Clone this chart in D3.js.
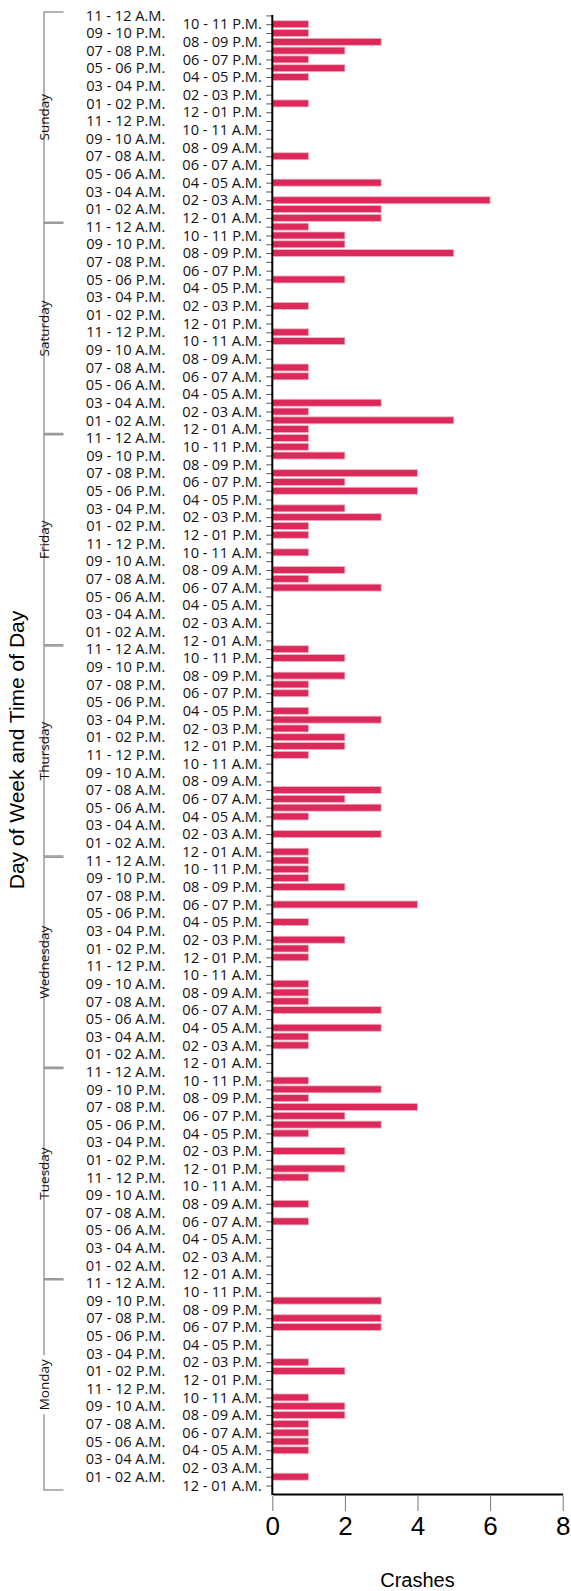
<!DOCTYPE html>
<html>
<head>
<meta charset="utf-8">
<script src="https://cdn.jsdelivr.net/npm/d3@7/dist/d3.min.js"></script>
<style>
  html, body { margin: 0; padding: 0; background: #fff; }
  svg { display: block; }
</style>
</head>
<body>
<svg id="chart" width="571" height="1591"></svg>
<script>
// ---- Data ----
const days = ["Monday", "Tuesday", "Wednesday", "Thursday", "Friday", "Saturday", "Sunday"];
const hourLabels = [
  "12 - 01 A.M.", "01 - 02 A.M.", "02 - 03 A.M.", "03 - 04 A.M.", "04 - 05 A.M.", "05 - 06 A.M.",
  "06 - 07 A.M.", "07 - 08 A.M.", "08 - 09 A.M.", "09 - 10 A.M.", "10 - 11 A.M.", "11 - 12 P.M.",
  "12 - 01 P.M.", "01 - 02 P.M.", "02 - 03 P.M.", "03 - 04 P.M.", "04 - 05 P.M.", "05 - 06 P.M.",
  "06 - 07 P.M.", "07 - 08 P.M.", "08 - 09 P.M.", "09 - 10 P.M.", "10 - 11 P.M.", "11 - 12 A.M."
];
// crashes per hour (index 0 = 12 - 01 A.M.)
const monday    = [0,1,0,0,1,1,1,1,2,2,1,0,0,2,1,0,0,0,3,3,0,3,0,0];
const tuesday   = [0,0,0,0,0,0,1,0,1,0,0,1,2,0,2,0,1,3,2,4,1,3,1,0];
const wednesday = [0,0,1,1,3,0,3,1,1,1,0,0,1,1,2,0,1,0,4,0,2,1,1,1];
const thursday  = [1,0,3,0,1,3,2,3,0,0,0,1,2,2,1,3,1,0,1,1,2,0,2,1];
const friday    = [0,0,0,0,0,0,3,1,2,0,1,0,1,1,3,2,0,4,2,4,0,2,1,1];
const saturday  = [1,5,1,3,0,0,1,1,0,0,2,1,0,0,1,0,0,2,0,0,5,2,2,1];
const sunday    = [3,3,6,0,3,0,0,1,0,0,0,0,0,1,0,0,1,2,1,2,3,1,1,0];
const xTicks = [0, 2, 4, 6, 8];
const xTitle = "Crashes";
const yTitle = "Day of Week and Time of Day";

const series = { Monday: monday, Tuesday: tuesday, Wednesday: wednesday, Thursday: thursday,
                 Friday: friday, Saturday: saturday, Sunday: sunday };

// rows ordered top -> bottom: Sunday 23h ... Monday 0h
const rows = [];
days.slice().reverse().forEach(day => {
  for (let h = 23; h >= 0; h--) rows.push({ key: day + "|" + h, day, hour: h, value: series[day][h] });
});

// ---- Layout ----
const svg = d3.select("#chart");
const x0 = 272.3, x1 = 562.7;
const yTop = 15.4, yBot = 1485.5, axisBottom = 1494;

const x = d3.scaleLinear().domain([0, 8]).range([x0, x1]);
const y = d3.scalePoint().domain(rows.map(r => r.key)).range([yTop, yBot]);
const step = y.step();

// Bars
svg.append("g").selectAll("rect").data(rows.filter(r => r.value > 0)).join("rect")
  .attr("x", x(0))
  .attr("y", d => y(d.key) - 3.5)
  .attr("width", d => x(d.value) - x(0))
  .attr("height", 7)
  .attr("fill", "#db2a5a")
  .attr("stroke", "#f3b3c4")
  .attr("stroke-width", 0.8);

// Y axis
const yAxis = svg.append("g").attr("transform", `translate(${x0},0)`)
  .call(d3.axisLeft(y).tickSize(6).tickPadding(4).tickFormat(k => hourLabels[+k.split("|")[1]]));
yAxis.select(".domain").remove();
yAxis.selectAll(".tick line").attr("stroke", "#555").attr("stroke-width", 1);
yAxis.selectAll(".tick text")
  .attr("font-family", "'Open Sans', sans-serif")
  .attr("font-size", 14.6)
  .attr("fill", "#111")
  .attr("x", k => (+k.split("|")[1]) % 2 === 1 ? -107 : -10.5);
svg.append("line")
  .attr("x1", x0).attr("x2", x0)
  .attr("y1", yTop - 0.5).attr("y2", axisBottom + 1)
  .attr("stroke", "#000").attr("stroke-width", 2);

// X axis
const xAxis = svg.append("g").attr("transform", `translate(0,${axisBottom})`)
  .call(d3.axisBottom(x).tickValues(xTicks).tickSize(17).tickSizeOuter(0).tickPadding(6).tickFormat(d3.format("d")));
xAxis.select(".domain").attr("stroke", "#000").attr("stroke-width", 2);
xAxis.selectAll(".tick line").attr("stroke", "#777").attr("stroke-width", 1).attr("y1", 2);
xAxis.selectAll(".tick text")
  .attr("font-family", "'Liberation Sans', Arial, sans-serif")
  .attr("font-size", 26)
  .attr("fill", "#000");

// Day brackets
const bracketX = 44, bracketEnd = 63.5;
const br = svg.append("g");
days.forEach(day => {
  const top = y(day + "|23") - 3.3;
  const bot = y(day + "|0") + step / 2;
  const mid = (top + bot) / 2;
  br.append("path")
    .attr("d", `M${bracketEnd},${top}H${bracketX}V${bot}H${bracketEnd}`)
    .attr("fill", "none").attr("stroke", "#9a9a9a").attr("stroke-width", 1.5);
  const t = br.append("text")
    .attr("transform", `translate(${bracketX + 5},${mid}) rotate(-90)`)
    .attr("text-anchor", "middle")
    .attr("font-family", "'Open Sans', sans-serif")
    .attr("font-size", 13.5)
    .attr("fill", "#111")
    .text(day);
  const w = t.node().getComputedTextLength();
  br.insert("rect", "text")
    .attr("x", bracketX - 3).attr("width", 6)
    .attr("y", mid - w / 2 - 4).attr("height", w + 8)
    .attr("fill", "#fff");
  t.raise();
});

// Titles
svg.append("text")
  .attr("transform", `translate(24,750) rotate(-90)`)
  .attr("text-anchor", "middle")
  .attr("font-family", "'Liberation Sans', Arial, sans-serif")
  .attr("font-size", 21)
  .attr("fill", "#000")
  .text(yTitle);

svg.append("text")
  .attr("x", (x0 + x1) / 2).attr("y", 1587)
  .attr("text-anchor", "middle")
  .attr("font-family", "'Liberation Sans', Arial, sans-serif")
  .attr("font-size", 20)
  .attr("fill", "#000")
  .text(xTitle);
</script>
</body>
</html>
